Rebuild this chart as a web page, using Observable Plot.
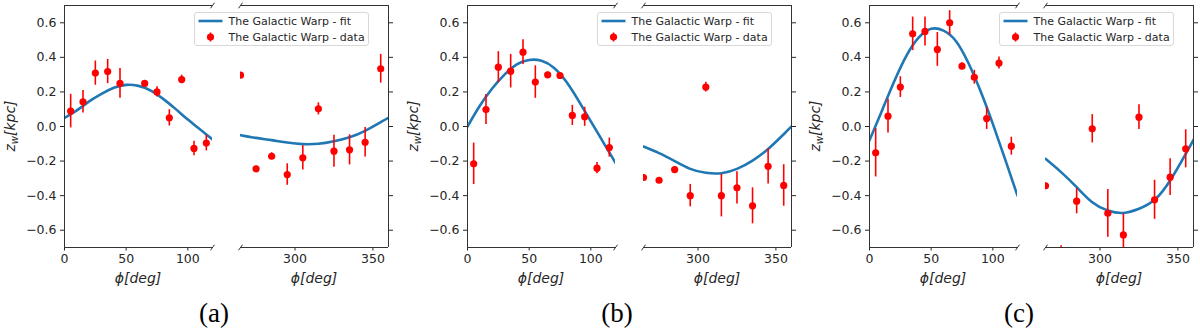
<!DOCTYPE html>
<html><head><meta charset="utf-8">
<script src="https://cdn.jsdelivr.net/npm/d3@7"></script>
<script src="https://cdn.jsdelivr.net/npm/@observablehq/plot@0.6"></script>
<style>
body{margin:0;background:#fff;}
#root{position:relative;width:1200px;height:329px;overflow:hidden;background:#fff;}
.lbl{position:absolute;font-family:"DejaVu Sans";font-size:14px;color:#262626;white-space:nowrap;font-style:oblique;transform:translate(-50%,-50%);}
.ylbl{transform:translate(-50%,-50%) rotate(-90deg);}
.ylbl sub{font-size:10px;vertical-align:-3px;}
.cap{position:absolute;font-family:"Liberation Serif";font-size:27px;color:#000;transform:translate(-50%,-50%);white-space:nowrap;}
.leg{position:absolute;width:173px;height:32px;border:1px solid #d8d8d8;border-radius:3px;background:rgba(255,255,255,0.85);font-family:"DejaVu Sans";font-size:11px;color:#262626;}
.leg .t{position:absolute;left:34px;white-space:nowrap;transform:translateY(-50%);}
.leg svg{position:absolute;left:0;top:0;}
</style></head><body><div id="root"></div><script>
// ---- data ----
const yTicks = [-0.6, -0.4, -0.2, 0.0, 0.2, 0.4, 0.6];
const xTicksLeft = [0, 50, 100];
const xTicksRight = [300, 350];
const phiLeft = [5, 15, 25, 35, 45, 55, 65, 75, 85, 95, 105, 115];
const phiRight = [265, 275, 285, 295, 305, 315, 325, 335, 345, 355];
const fitPhiLeft = [0, 10, 20, 30, 40, 50, 60, 70, 80, 90, 100, 110, 120];
const fitPhiRight = [265, 275, 285, 295, 305, 315, 325, 335, 345, 355, 360];

// panel (a)
const zA_left = [0.089, 0.143, 0.309, 0.318, 0.249, null, 0.249, 0.20, 0.05, 0.272, -0.127, -0.096];
const eA_left = [0.097, 0.065, 0.07, 0.07, 0.086, null, 0.015, 0.03, 0.047, 0.025, 0.042, 0.045];
const zA_right = [0.297, -0.245, -0.172, -0.278, -0.181, 0.102, -0.143, -0.135, -0.091, 0.334];
const eA_right = [0.015, 0.015, 0.02, 0.062, 0.07, 0.035, 0.093, 0.087, 0.085, 0.083];
const fitA_left = [0.05, 0.093, 0.145, 0.189, 0.224, 0.241, 0.235, 0.208, 0.16, 0.102, 0.04, -0.017, -0.075];
const fitA_right = [-0.05, -0.066, -0.079, -0.093, -0.102, -0.1, -0.085, -0.062, -0.025, 0.025, 0.05];

// panel (b)
const zB_left = [-0.216, 0.098, 0.343, 0.32, 0.43, 0.257, 0.299, 0.295, 0.064, 0.056, -0.241, -0.122];
const eB_left = [0.12, 0.087, 0.09, 0.097, 0.072, 0.094, 0.015, 0.015, 0.058, 0.055, 0.033, 0.055];
const zB_right = [-0.295, -0.311, -0.249, -0.4, 0.228, -0.4, -0.355, -0.459, -0.23, -0.341];
const eB_right = [0.015, 0.015, 0.015, 0.065, 0.028, 0.123, 0.093, 0.104, 0.103, 0.12];
const fitB_left = [0.0, 0.12, 0.22, 0.30, 0.36, 0.385, 0.38, 0.34, 0.26, 0.15, 0.03, -0.09, -0.21];
const fitB_right = [-0.116, -0.154, -0.2, -0.245, -0.268, -0.27, -0.245, -0.197, -0.13, -0.045, 0.0];

// panel (c)
const zC_left = [-0.152, 0.06, 0.228, 0.536, 0.55, 0.446, 0.6, 0.349, 0.285, 0.046, 0.367, -0.114];
const eC_left = [0.14, 0.098, 0.06, 0.097, 0.084, 0.098, 0.07, 0.02, 0.04, 0.063, 0.035, 0.052];
const zC_right = [-0.343, -0.78, -0.432, -0.013, -0.502, -0.627, 0.054, -0.424, -0.293, -0.129];
const eC_right = [0.015, 0.09, 0.073, 0.082, 0.138, 0.12, 0.072, 0.113, 0.106, 0.11];
const fitC_left = [-0.08, 0.09, 0.26, 0.41, 0.515, 0.565, 0.555, 0.495, 0.37, 0.205, 0.015, -0.19, -0.40];
const fitC_right = [-0.187, -0.264, -0.351, -0.438, -0.486, -0.5, -0.476, -0.424, -0.312, -0.158, -0.077];

const captions = ["(a)", "(b)", "(c)"];
const legendFit = "The Galactic Warp - fit";
const legendData = "The Galactic Warp - data";

const panels = [
  {cap: captions[0], axisLeft: 64, zl: zA_left, el: eA_left, zr: zA_right, er: eA_right, fl: fitA_left, fr: fitA_right},
  {cap: captions[1], axisLeft: 467, zl: zB_left, el: eB_left, zr: zB_right, er: eB_right, fl: fitB_left, fr: fitB_right},
  {cap: captions[2], axisLeft: 869, zl: zC_left, el: eC_left, zr: zC_right, er: eC_right, fl: fitC_left, fr: fitC_right}
];

const root = document.getElementById("root");
const SUBW = 148, GAP = 28, FIT = "#1f77b4", SPINE = "#333";
const slash = {draw(ctx) { ctx.moveTo(-2, 2.8); ctx.lineTo(2, -2.8); }};

function subplot(left, side, domain, ticks, phis, zs, es, fphi, fz) {
  const pts = phis.map((p, i) => ({phi: p, z: zs[i], e: es[i]})).filter(d => d.z != null);
  const fit = fphi.map((p, i) => ({phi: p, z: fz[i]}));
  const edge = side === "left" ? domain[1] : domain[0];
  const spineX = side === "left" ? domain[0] : domain[1];
  const mL = side === "left" ? 60 : 10, mR = side === "left" ? 10 : 30;
  const plot = Plot.plot({
    width: mL + SUBW + mR, height: 300,
    marginTop: 5, marginBottom: 53, marginLeft: mL, marginRight: mR,
    style: {fontSize: "12.5px", fontFamily: "DejaVu Sans", color: "#262626", background: "transparent", overflow: "visible"},
    x: {domain, ticks, tickSize: 3.5, tickPadding: 3, label: null, tickFormat: d3.format("d")},
    y: {domain: [-0.7, 0.7], ticks: yTicks, tickSize: 4, tickPadding: 4, label: null,
        axis: side, tickFormat: side === "left" ? d3.format(".1f") : () => ""},
    marks: [
      Plot.line(fit, {x: "phi", y: "z", stroke: FIT, strokeWidth: 2.6, curve: "natural", clip: true}),
      Plot.ruleX(pts, {x: "phi", y1: d => d.z - d.e, y2: d => d.z + d.e, stroke: "red", strokeWidth: 1.6, clip: true}),
      Plot.dot(pts, {x: "phi", y: "z", r: 3.6, fill: "red", stroke: "none", clip: true}),
      Plot.ruleY([0.7, -0.7], {stroke: SPINE, strokeWidth: 1}),
      Plot.ruleX([spineX], {stroke: SPINE, strokeWidth: 1}),
      Plot.dot([0.7, -0.7], {x: () => edge, y: d => d, symbol: slash, fill: "none", stroke: SPINE, strokeWidth: 1})
    ]
  });
  plot.style.position = "absolute";
  plot.style.left = (left - mL) + "px";
  plot.style.top = "0px";
  root.appendChild(plot);
}

function div(cls, html, x, y) {
  const d = document.createElement("div");
  d.className = cls; d.innerHTML = html;
  d.style.left = x + "px"; d.style.top = y + "px";
  root.appendChild(d);
  return d;
}

for (const p of panels) {
  const L = p.axisLeft, R = L + SUBW + GAP;
  subplot(L, "left", [0, 120], xTicksLeft, phiLeft, p.zl, p.el, fitPhiLeft, p.fl);
  subplot(R, "right", [265, 360], xTicksRight, phiRight, p.zr, p.er, fitPhiRight, p.fr);
  div("lbl", "ϕ[deg]", L + SUBW / 2, 278);
  div("lbl", "ϕ[deg]", R + SUBW / 2, 278);
  div("lbl ylbl", "z<sub>w</sub>[kpc]", L - 53, 126);
  div("cap", p.cap, L + 150, 313);
  const lg = div("leg", "", L + 129.5, 11.5);
  lg.innerHTML =
    `<svg width="34" height="34"><line x1="3.5" x2="27.5" y1="8" y2="8" stroke="${FIT}" stroke-width="2.6"/>` +
    `<line x1="15.5" x2="15.5" y1="19.5" y2="28.5" stroke="red" stroke-width="1.6"/>` +
    `<circle cx="15.5" cy="24" r="3.6" fill="red"/></svg>` +
    `<div class="t" style="top:8px">${legendFit}</div><div class="t" style="top:24px">${legendData}</div>`;
}
</script></body></html>
